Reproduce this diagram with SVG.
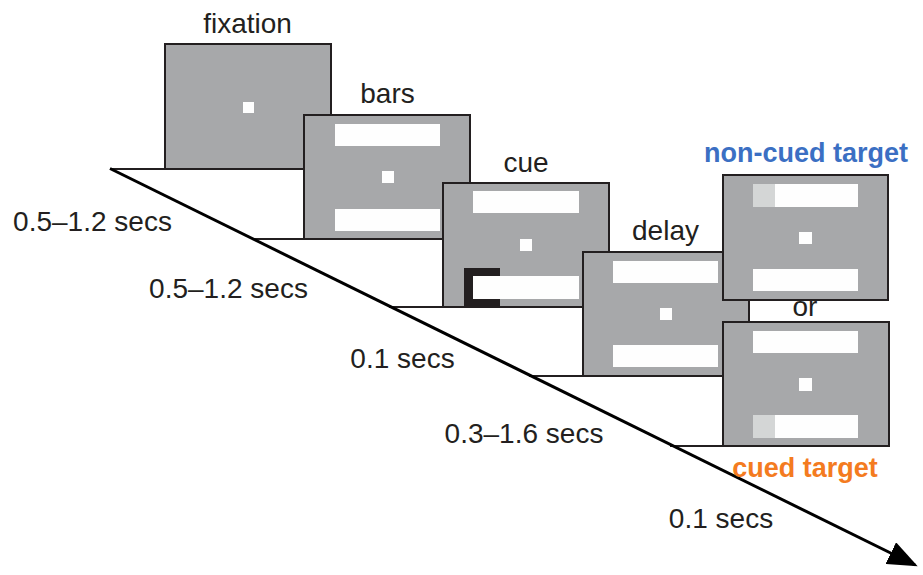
<svg xmlns="http://www.w3.org/2000/svg" width="923" height="575" viewBox="0 0 923 575">
<style>
.scr{fill:#A7A8AA;stroke:#231F20;stroke-width:2}
.bar{fill:#FEFEFE}
.dot{fill:#FEFEFE}
.lt{fill:#D4D6D6}
.hl{stroke:#231F20;stroke-width:2;fill:none}
.lbl{font-family:"Liberation Sans",Arial,sans-serif;font-size:28px;fill:#231F20;text-anchor:middle}
.bold{font-family:"Liberation Sans",Arial,sans-serif;font-size:27px;font-weight:bold;text-anchor:middle}
</style>
<defs>
<marker id="arr" markerWidth="10" markerHeight="8" refX="9" refY="4" orient="auto" markerUnits="strokeWidth">
<path d="M0,0 L10,4 L0,8 Z" fill="#000"/>
</marker>
</defs>
<rect width="923" height="575" fill="#fff"/>
<g id="connectors">
<line class="hl" x1="110" y1="169" x2="304" y2="169"/>
<line class="hl" x1="252" y1="239" x2="443" y2="239"/>
<line class="hl" x1="389" y1="307" x2="583" y2="307"/>
<line class="hl" x1="529" y1="376" x2="723" y2="376"/>
<line class="hl" x1="670" y1="446" x2="723" y2="446"/>
<line x1="110" y1="168.5" x2="915" y2="565" stroke="#000" stroke-width="3" marker-end="url(#arr)"/>
</g>
<g id="fixation">
<rect class="scr" x="165" y="44" width="166" height="125"/>
<rect class="dot" x="243" y="102" width="11" height="11"/>
<text class="lbl" x="247.5" y="33">fixation</text>
</g>
<g id="bars">
<rect class="scr" x="304" y="115" width="166" height="124"/>
<rect class="bar" x="335" y="124" width="105" height="22"/>
<rect class="dot" x="382" y="171" width="12" height="12"/>
<rect class="bar" x="335" y="209" width="105" height="22"/>
<text class="lbl" x="387.5" y="103">bars</text>
</g>
<g id="cue">
<rect class="scr" x="443" y="183" width="166" height="124"/>
<rect class="bar" x="473" y="191" width="106" height="22"/>
<rect class="dot" x="520" y="239" width="12" height="12"/>
<rect x="464" y="268" width="36" height="38" fill="#231F20"/>
<rect class="bar" x="473" y="276" width="106" height="23"/>
<text class="lbl" x="526" y="172">cue</text>
</g>
<g id="delay">
<rect class="scr" x="583" y="252" width="166" height="124"/>
<rect class="bar" x="613" y="261" width="105" height="22"/>
<rect class="dot" x="660" y="308" width="12" height="12"/>
<rect class="bar" x="613" y="345" width="105" height="22"/>
<text class="lbl" x="665.5" y="240">delay</text>
</g>
<g id="noncued">
<rect class="scr" x="723" y="175" width="165" height="125"/>
<rect class="bar" x="753" y="184" width="105" height="23"/>
<rect class="lt" x="753" y="184" width="22" height="23"/>
<rect class="dot" x="799" y="232" width="13" height="12"/>
<rect class="bar" x="753" y="269" width="105" height="22"/>
<text class="bold" x="806" y="162" fill="#3B6FC3">non-cued target</text>
</g>
<g id="or">
<text class="lbl" x="805" y="316">or</text>
</g>
<g id="cued">
<rect class="scr" x="723" y="322" width="166" height="124"/>
<rect class="bar" x="753" y="331" width="105" height="22"/>
<rect class="dot" x="799" y="378" width="13" height="13"/>
<rect class="bar" x="753" y="415" width="105" height="23"/>
<rect class="lt" x="753" y="415" width="22" height="23"/>
<text class="bold" x="805" y="477" fill="#F47B20">cued target</text>
</g>
<g id="durations">
<text class="lbl" x="92.5" y="231">0.5–1.2 secs</text>
<text class="lbl" x="228.5" y="298">0.5–1.2 secs</text>
<text class="lbl" x="402.5" y="368">0.1 secs</text>
<text class="lbl" x="524" y="443">0.3–1.6 secs</text>
<text class="lbl" x="721" y="528">0.1 secs</text>
</g>
</svg>
